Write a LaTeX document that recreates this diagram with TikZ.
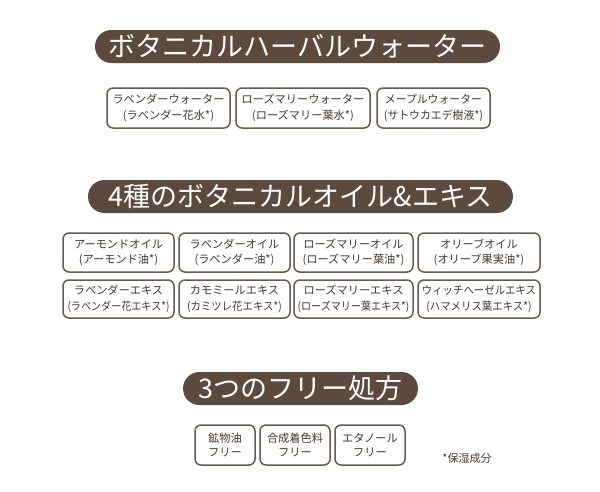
\documentclass[tikz,border=0pt]{standalone}
\usepackage{fontspec}
\setmainfont{Noto Sans CJK JP}
\definecolor{pillbrown}{HTML}{5C4A3E}
\definecolor{boxline}{HTML}{6A5A4E}
\definecolor{txt}{HTML}{43372F}
\tikzset{
  pill/.style={fill=pillbrown, text=white, rounded corners=16.5pt, minimum height=33pt, inner sep=0pt, font=\fontsize{27}{30}\selectfont},
  itembox/.style={draw=boxline, line width=1.5pt, rounded corners=6pt, inner sep=0pt, align=center, text=txt, font=\fontsize{11.2}{15.5}\selectfont},
  note/.style={text=txt, inner sep=0pt, font=\fontsize{11}{13}\selectfont}
}
\begin{document}
\begin{tikzpicture}[x=1pt,y=-1pt]
\useasboundingbox[fill=white] (0,0) rectangle (600,491);
% titles
\node[pill, minimum width=405pt] (t1) at (297.5,46.5) {ボタニカルハーバルウォーター};
\node[pill, minimum width=425pt] (t2) at (300.5,196.5) {4種のボタニカルオイル\&エキス};
\node[pill, minimum width=235pt] (t3) at (300.5,388.5) {3つのフリー処方};
% row 1
\node[itembox, minimum width=123pt, minimum height=40pt] (a1) at (168.5,108) {ラベンダーウォーター\\(ラベンダー花水*)};
\node[itembox, minimum width=134pt, minimum height=40pt] (a2) at (303,108) {ローズマリーウォーター\\(ローズマリー葉水*)};
\node[itembox, minimum width=113pt, minimum height=40pt] (a3) at (433.5,108) {\scalebox{0.97}[1]{メープルウォーター}\\\scalebox{0.97}[1]{(サトウカエデ樹液*)}};
% row 2
\node[itembox, minimum width=111pt, minimum height=39pt] (b1) at (118.5,252.5) {アーモンドオイル\\(アーモンド油*)};
\node[itembox, minimum width=111pt, minimum height=39pt] (b2) at (234.5,252.5) {ラベンダーオイル\\(ラベンダー油*)};
\node[itembox, minimum width=119pt, minimum height=39pt] (b3) at (353.5,252.5) {ローズマリーオイル\\(ローズマリー葉油*)};
\node[itembox, minimum width=122pt, minimum height=39pt] (b4) at (479,252.5) {オリーブオイル\\(オリーブ果実油*)};
% row 3
\node[itembox, minimum width=111pt, minimum height=38pt] (c1) at (118.5,299) {ラベンダーエキス\\\scalebox{0.9}[1]{(ラベンダー花エキス*)}};
\node[itembox, minimum width=111pt, minimum height=38pt] (c2) at (234.5,299) {カモミールエキス\\\scalebox{0.93}[1]{(カミツレ花エキス*)}};
\node[itembox, minimum width=119pt, minimum height=38pt] (c3) at (353.5,299) {ローズマリーエキス\\\scalebox{0.9}[1]{(ローズマリー葉エキス*)}};
\node[itembox, minimum width=122pt, minimum height=38pt] (c4) at (479,299) {\scalebox{0.93}[1]{ウィッチヘーゼルエキス}\\\scalebox{0.93}[1]{(ハマメリス葉エキス*)}};
% row 4
\node[itembox, minimum width=60pt, minimum height=40pt, font=\fontsize{11.2}{14.5}\selectfont] (d1) at (225,445) {鉱物油\\フリー};
\node[itembox, minimum width=70pt, minimum height=40pt, font=\fontsize{11.2}{14.5}\selectfont] (d2) at (295,445) {合成着色料\\フリー};
\node[itembox, minimum width=70pt, minimum height=40pt, font=\fontsize{11.2}{14.5}\selectfont] (d3) at (370,445) {エタノール\\フリー};
\node[note] (n) at (467,458) {*保湿成分};
\end{tikzpicture}
\end{document}
